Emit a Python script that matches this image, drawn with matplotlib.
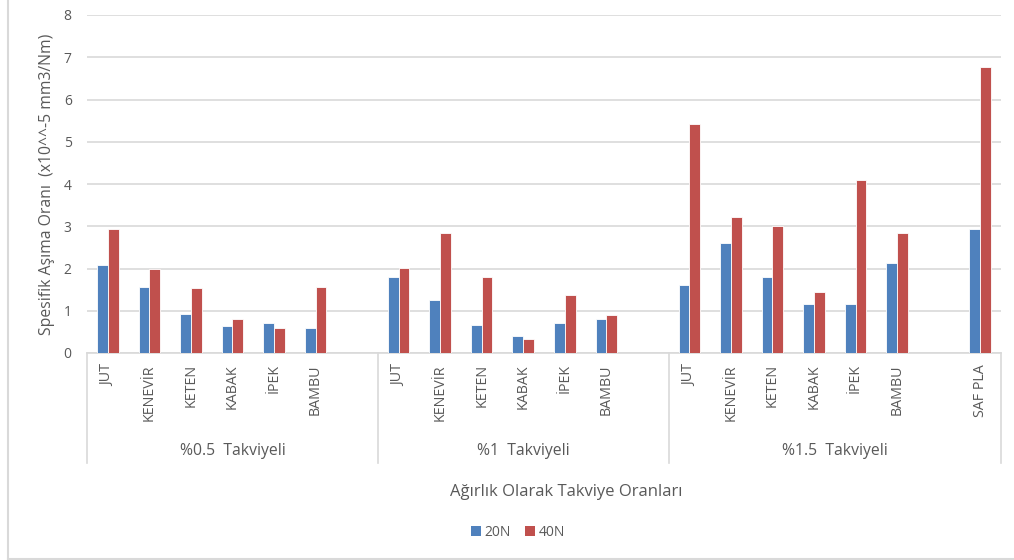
import matplotlib
matplotlib.use("Agg")
import matplotlib.pyplot as plt
from matplotlib.lines import Line2D
from matplotlib.patches import Patch
from matplotlib.transforms import blended_transform_factory

plt.rcParams['font.family'] = ['Open Sans', 'DejaVu Sans']

# Data
groups = ["%0.5  Takviyeli", "%1  Takviyeli", "%1.5  Takviyeli"]
fibers = ["JUT", "KENEVİR", "KETEN", "KABAK", "İPEK", "BAMBU"]
extra_label = "SAF PLA"

load_20n_05 = [2.08, 1.57, 0.93, 0.63, 0.72, 0.59]
load_40n_05 = [2.94, 2.00, 1.53, 0.80, 0.59, 1.57]
load_20n_10 = [1.81, 1.25, 0.67, 0.41, 0.72, 0.80]
load_40n_10 = [2.01, 2.85, 1.81, 0.33, 1.38, 0.89]
load_20n_15 = [1.61, 2.61, 1.81, 1.17, 1.17, 2.12]
load_40n_15 = [5.41, 3.23, 3.01, 1.45, 4.10, 2.85]
saf_pla_20n = 2.93
saf_pla_40n = 6.76

series_names = ["20N", "40N"]
colors = ["#4F81BD", "#C0504D"]
text_color = "#595959"
grid_color = "#D9D9D9"

W, H = 1014, 560
fig = plt.figure(figsize=(W / 100, H / 100), dpi=100)
ax = fig.add_axes([87 / W, (H - 353) / H, (1001 - 87) / W, (353 - 15) / H])

# Slot layout: each group of six fibres followed by an empty slot, SAF PLA last
positions, labels, v20, v40 = [], [], [], []
blocks = [(load_20n_05, load_40n_05), (load_20n_10, load_40n_10), (load_20n_15, load_40n_15)]
slot = 0
group_spans = []
for gi, (a, b) in enumerate(blocks):
    start = slot
    for name, x20, x40 in zip(fibers, a, b):
        positions.append(slot)
        labels.append(name)
        v20.append(x20)
        v40.append(x40)
        slot += 1
    slot += 1
    if gi == len(blocks) - 1:
        positions.append(slot)
        labels.append(extra_label)
        v20.append(saf_pla_20n)
        v40.append(saf_pla_40n)
        slot += 1
    group_spans.append((start - 0.5, slot - 0.5))

bw = 0.26
ax.bar([p - bw / 2 for p in positions], v20, width=bw, color=colors[0],
       edgecolor="white", linewidth=0.6, zorder=3)
ax.bar([p + bw / 2 for p in positions], v40, width=bw, color=colors[1],
       edgecolor="white", linewidth=0.6, zorder=3)

ax.set_xlim(-0.5, slot - 0.5)
ax.set_ylim(0, 8)
ax.set_yticks(range(0, 9))
ax.grid(axis="y", color=grid_color, linewidth=1.2, zorder=0)
for s in ["top", "right", "left"]:
    ax.spines[s].set_visible(False)
ax.spines["bottom"].set_color(grid_color)
ax.spines["bottom"].set_linewidth(1.2)
ax.tick_params(axis="y", length=0, pad=11, labelsize=10, labelcolor=text_color)
ax.set_xticks(positions)
ax.set_xticklabels(labels, rotation=90, fontsize=10.3, color=text_color)
ax.tick_params(axis="x", length=0, pad=8)

ax.set_ylabel("Spesifik Aşıma Oranı  (x10^^-5 mm3/Nm)", fontsize=11.3,
              color=text_color, labelpad=6)

# Group labels and separators below the category labels
tr = blended_transform_factory(ax.transData, fig.transFigure)
y_top = (H - 353) / H
y_bot = (H - 463) / H
edges = sorted({e for span in group_spans for e in span})
for e in edges:
    fig.add_artist(Line2D([e, e], [y_top, y_bot], transform=tr,
                          color=grid_color, linewidth=1.2))
for (a, b), g in zip(group_spans, groups):
    fig.text((a + b) / 2, (H - 451) / H, g, transform=tr, ha="center",
             va="center", fontsize=11.3, color=text_color)

fig.text(566 / W, (H - 492) / H, "Ağırlık Olarak Takviye Oranları",
         ha="center", va="center", fontsize=12, color=text_color)

handles = [Patch(facecolor=c, edgecolor="none") for c in colors]
fig.legend(handles, series_names, loc="center", bbox_to_anchor=(518 / W, (H - 532) / H),
           ncol=2, frameon=False, fontsize=10, labelcolor=text_color,
           handlelength=0.7, handleheight=0.7, handletextpad=0.3, columnspacing=1.0)

# Chart area border
fig.add_artist(Line2D([7.5 / W, 7.5 / W], [1, (H - 558.5) / H], transform=fig.transFigure,
                      color=grid_color, linewidth=1.5))
fig.add_artist(Line2D([7.5 / W, 1], [(H - 558.5) / H, (H - 558.5) / H], transform=fig.transFigure,
                      color=grid_color, linewidth=1.5))

fig.savefig("out.png", dpi=100, facecolor="white")
